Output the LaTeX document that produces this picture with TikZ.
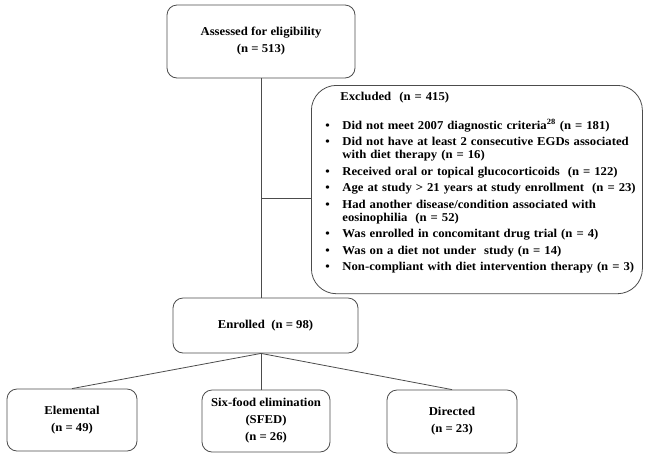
\documentclass[tikz,border=0pt]{standalone}
\usepackage{fontspec}
\setmainfont{Liberation Serif}[FakeStretch=1.06]
\usetikzlibrary{positioning}

\tikzset{
  box/.style = {draw = black!70, line width = 0.8pt, rounded corners = 10pt,
    align = center, inner sep = 2pt, font = \fontsize{12}{17}\selectfont\bfseries},
  exclbox/.style = {draw = black!70, line width = 0.8pt, rounded corners = 25pt,
    inner xsep = 7pt, inner ysep = 7pt, text width = 317pt,
    font = \fontsize{12}{13}\selectfont\bfseries},
  link/.style = {draw = black!70, line width = 0.8pt},
}
\newcommand{\exitem}[1]{\par\vspace{3.5pt}\noindent\hangindent=24pt\hangafter=1%
  \hspace*{7pt}\makebox[17pt][l]{\textbullet}#1}

\begin{document}
\begin{tikzpicture}[x = 1pt, y = -1pt]
  \useasboundingbox (0,0) rectangle (648,459);
  \node[box, minimum width = 188pt, minimum height = 73pt] (assess) at (261,41.5)
    {Assessed for eligibility\\(n = 513)};
  \node[exclbox, anchor = north west] (excl) at (311,85) {%
    \raggedright\hyphenpenalty=10000
    \hspace*{22pt}Excluded\ \ (n = 415)\par\vspace{12pt}
    \exitem{\mbox{Did not meet 2007 diagnostic criteria\textsuperscript{28} (n = 181)}}
    \exitem{\mbox{Did not have at least 2 consecutive EGDs associated}\newline with diet therapy (n = 16)}
    \exitem{\mbox{Received oral or topical glucocorticoids\ \ (n = 122)}}
    \exitem{\mbox{Age at study > 21 years at study enrollment\ \ (n = 23)}}
    \exitem{\mbox{Had another disease/condition associated with}\newline eosinophilia\ \ (n = 52)}
    \exitem{\mbox{Was enrolled in concomitant drug trial (n = 4)}}
    \exitem{\mbox{Was on a diet not under\ \ study (n = 14)}}
    \exitem{\mbox{Non-compliant with diet intervention therapy (n = 3)}}
    \par\vspace{3pt}\noindent\mbox{}};
  \node[box, minimum width = 185pt, minimum height = 55pt] (enrol) at (265.5,325.5)
    {Enrolled\ \ (n = 98)};
  \node[box, minimum width = 130pt, minimum height = 62pt] (elem) at (72,420)
    {Elemental\\(n = 49)};
  \node[box, minimum width = 128pt, minimum height = 62pt] (sfed) at (266,421)
    {Six-food elimination\\(SFED)\\(n = 26)};
  \node[box, minimum width = 130pt, minimum height = 63pt] (direct) at (452,421.5)
    {Directed\\(n = 23)};

  % connectors
  \coordinate (branch) at (assess.south |- 0,198);
  \coordinate (fork) at (assess.south |- enrol.south);
  \draw[link] (assess.south) -- (assess.south |- enrol.north);
  \draw[link] (branch) -- (branch -| excl.west);
  \draw[link] (fork) -- (elem.north);
  \draw[link] (fork) -- (fork |- sfed.north);
  \draw[link] (fork) -- (direct.north);
\end{tikzpicture}
\end{document}
